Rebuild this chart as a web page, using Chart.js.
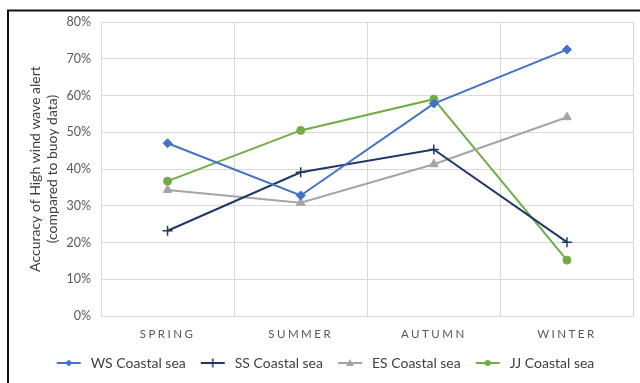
<!DOCTYPE html>
<html>
<head>
<meta charset="utf-8">
<script src="https://cdn.jsdelivr.net/npm/chart.js@4/dist/chart.umd.min.js"></script>
<style>
  html, body { margin: 0; padding: 0; background: #fff; }
  #wrap { width: 640px; height: 383px; position: relative; }
</style>
</head>
<body>
<div id="wrap"><canvas id="c" width="640" height="383"></canvas></div>
<script>
// Seasons on the category axis
const categories = ['SPRING', 'SUMMER', 'AUTUMN', 'WINTER'];

// Alert accuracy (%) per coastal sea
const wsCoastal = [47.0, 32.8, 57.8, 72.5];
const ssCoastal = [23.2, 39.1, 45.3, 20.1];
const esCoastal = [34.3, 30.8, 41.3, 54.1];
const jjCoastal = [36.7, 50.5, 59.0, 15.2];

const seriesNames = ['WS Coastal sea', 'SS Coastal sea', 'ES Coastal sea', 'JJ Coastal sea'];
const yAxisTitle = ['Accuracy of High wind wave alert', '(compared to buoy data)'];

const FONT = 'Lato, "Open Sans", sans-serif';
const TEXT = '#595959';
const GRID = '#D9D9D9';

const styles = [
  { color: '#4472C4', marker: 'rectRot',  radius: 4.5, bw: 1 },
  { color: '#203864', marker: 'cross',    radius: 5,   bw: 1.5 },
  { color: '#A5A5A5', marker: 'triangle', radius: 5,   bw: 1 },
  { color: '#70AD47', marker: 'circle',   radius: 4,   bw: 1 }
];

// Small line-with-marker swatch for the legend
function legendIcon(st) {
  const w = 28, h = 12;
  const cv = document.createElement('canvas');
  cv.width = w; cv.height = h;
  const g = cv.getContext('2d');
  const cy = h / 2, cx = w / 2;
  g.strokeStyle = st.color; g.fillStyle = st.color; g.lineWidth = 2;
  g.beginPath(); g.moveTo(2, cy); g.lineTo(w - 2, cy); g.stroke();
  g.lineWidth = 1.5;
  g.beginPath();
  if (st.marker === 'rectRot') {
    g.moveTo(cx, cy - 3.5); g.lineTo(cx + 3.5, cy); g.lineTo(cx, cy + 3.5); g.lineTo(cx - 3.5, cy); g.closePath(); g.fill();
  } else if (st.marker === 'cross') {
    g.moveTo(cx, cy - 4.5); g.lineTo(cx, cy + 4.5); g.stroke();
  } else if (st.marker === 'triangle') {
    g.moveTo(cx, cy - 4); g.lineTo(cx + 4, cy + 3); g.lineTo(cx - 4, cy + 3); g.closePath(); g.fill();
  } else {
    g.arc(cx, cy, 3, 0, Math.PI * 2); g.fill();
  }
  return cv;
}

const values = [wsCoastal, ssCoastal, esCoastal, jjCoastal];
const datasets = values.map((vals, i) => ({
  label: seriesNames[i],
  data: vals,
  borderColor: styles[i].color,
  backgroundColor: styles[i].color,
  borderWidth: 2,
  pointStyle: styles[i].marker,
  pointRadius: styles[i].radius,
  pointBorderWidth: styles[i].bw,
  pointBackgroundColor: styles[i].color,
  pointBorderColor: styles[i].color,
  tension: 0,
  fill: false
}));

const icons = styles.map(legendIcon);

// Frame line along the top and left of the chart
const framePlugin = {
  id: 'frame',
  beforeDraw(chart) {
    const ctx = chart.ctx;
    ctx.save();
    ctx.fillStyle = '#fff';
    ctx.fillRect(0, 0, chart.width, chart.height);
    ctx.strokeStyle = '#111';
    ctx.lineWidth = 2;
    ctx.beginPath();
    ctx.moveTo(8, chart.height);
    ctx.lineTo(8, 10.5);
    ctx.lineTo(chart.width, 10.5);
    ctx.stroke();
    ctx.restore();
  }
};

// Spaced-out capitals on the season axis
const spacedLabels = {
  id: 'spacedLabels',
  beforeDraw(chart) {
    const sc = chart.scales.x;
    if (!sc || sc._spaced) return;
    const orig = sc.drawLabels;
    sc.drawLabels = function (area) {
      const ctx = this.ctx;
      ctx.save();
      ctx.letterSpacing = '2.5px';
      orig.call(this, area);
      ctx.restore();
    };
    sc._spaced = true;
  }
};

new Chart(document.getElementById('c'), {
  type: 'line',
  data: { labels: categories, datasets },
  plugins: [framePlugin, spacedLabels],
  options: {
    responsive: false,
    animation: false,
    layout: { padding: { left: 14, right: 6, top: 22, bottom: 3 } },
    plugins: {
      tooltip: { enabled: false },
      legend: {
        position: 'bottom',
        labels: {
          usePointStyle: true,
          pointStyleWidth: 30,
          boxHeight: 12,
          padding: 12,
          color: '#404040',
          font: { family: FONT, size: 14 },
          generateLabels(chart) {
            return chart.data.datasets.map((ds, i) => ({
              text: ds.label,
              pointStyle: icons[i],
              fontColor: '#404040',
              strokeStyle: ds.borderColor,
              fillStyle: ds.borderColor,
              lineWidth: 0,
              datasetIndex: i,
              hidden: false
            }));
          }
        }
      }
    },
    scales: {
      x: {
        offset: true,
        grid: { offset: true, color: GRID, lineWidth: 1, drawTicks: false },
        border: { color: GRID },
        ticks: { color: TEXT, padding: 11, font: { family: FONT, size: 11.5 } },
        afterFit(s) { s.height = 28; }
      },
      y: {
        min: 0, max: 80,
        grid: { color: GRID, lineWidth: 1, drawTicks: false },
        border: { color: GRID },
        ticks: {
          stepSize: 10,
          padding: 10,
          color: TEXT,
          font: { family: FONT, size: 12.5 },
          callback: v => v + '%'
        },
        title: {
          display: true,
          text: yAxisTitle,
          color: '#404040',
          font: { family: FONT, size: 14 },
          padding: { top: 13, bottom: 0 }
        },
        afterFit(s) { s.width = 87; }
      }
    }
  }
});
</script>
</body>
</html>
